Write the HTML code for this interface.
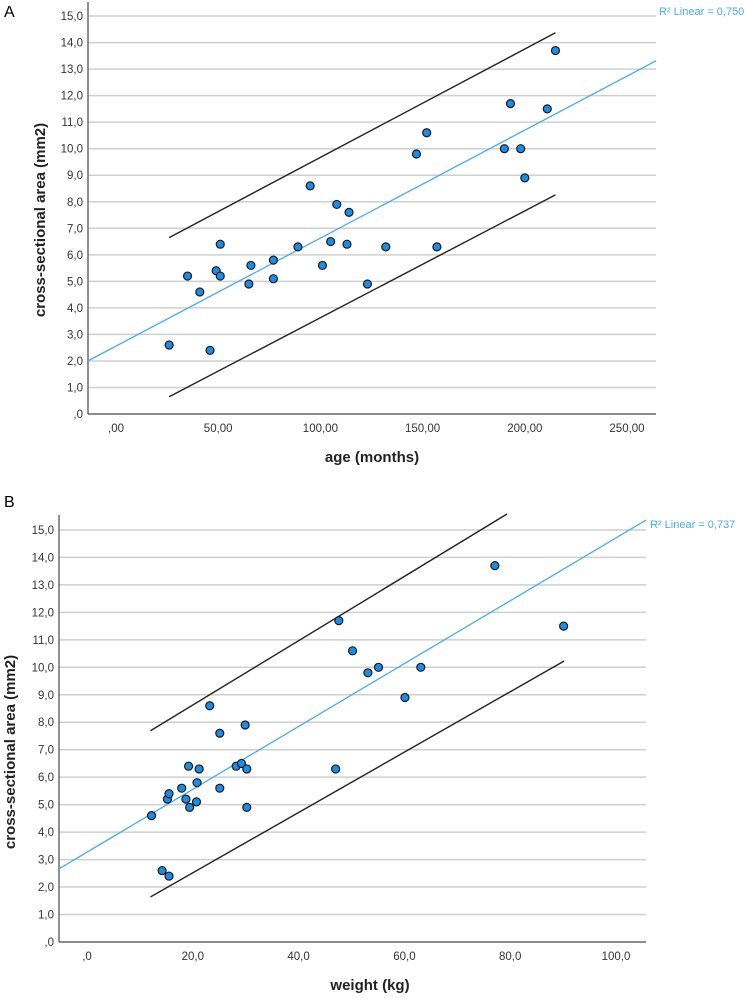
<!DOCTYPE html>
<html><head><meta charset="utf-8"><style>
body{margin:0;background:#fff;}
svg text{font-family:"Liberation Sans",sans-serif;}
</style></head><body>
<svg id="s" width="745" height="996" viewBox="0 0 745 996" xmlns="http://www.w3.org/2000/svg">
<text x="4" y="17" font-size="16" fill="#000">A</text>
<text x="4" y="507" font-size="16" fill="#000">B</text>
</svg>
<script>
// Panel A data
const ageX = [26,35,41,46,49,51,51,65,66,77,77,89,95,101,105,108,114,113,123,132,147,152,157,190,193,198,200,211,215];
const ageY = [2.6,5.2,4.6,2.4,5.4,6.4,5.2,4.9,5.6,5.8,5.1,6.3,8.6,5.6,6.5,7.9,7.6,6.4,4.9,6.3,9.8,10.6,6.3,10.0,11.7,10.0,8.9,11.5,13.7];
const ageFit = [2.56, 0.0407]; // intercept, slope
const ageBandX = [26, 215];
const ageUpperY = [6.65, 14.37];
const ageLowerY = [0.65, 8.26];
const ageXTicks = [0,50,100,150,200,250];
const ageXTickLabels = [",00","50,00","100,00","150,00","200,00","250,00"];
// Panel B data
const wX = [12.2,14.2,15.5,15.2,15.5,17.9,18.7,19.2,19.4,20.7,20.8,21.2,23.2,25.1,25.1,28.2,29.2,29.9,30.2,30.2,47.0,47.6,50.2,53.1,55.1,60.1,63.1,77.1,90.1];
const wY = [4.6,2.6,2.4,5.2,5.4,5.6,5.2,6.4,4.9,5.1,5.8,6.3,8.6,7.6,5.6,6.4,6.5,7.9,6.3,4.9,6.3,11.7,10.6,9.8,10.0,8.9,10.0,13.7,11.5];
const wFit = [3.27, 0.1144];
const wUpperX = [12, 79.4];
const wUpperY = [7.69, 15.58];
const wLowerX = [12, 90.2];
const wLowerY = [1.64, 10.23];
const wXTicks = [0,20,40,60,80,100];
const wXTickLabels = [",0","20,0","40,0","60,0","80,0","100,0"];
const yTicks = [0,1,2,3,4,5,6,7,8,9,10,11,12,13,14,15];
const yTickLabels = [",0","1,0","2,0","3,0","4,0","5,0","6,0","7,0","8,0","9,0","10,0","11,0","12,0","13,0","14,0","15,0"];

const svg = document.getElementById('s');
const NS = 'http://www.w3.org/2000/svg';
function mk(tag, attrs, parent){const e=document.createElementNS(NS,tag);for(const k in attrs)e.setAttribute(k,attrs[k]);(parent||svg).appendChild(e);return e;}

function panel(cfg){
  const g = mk('g',{});
  
  
  const sx = v => cfg.x0 + v*cfg.kx;
  const sy = v => cfg.y0 - v*cfg.ky;
  yTicks.forEach((t,i)=>{
    const gl = mk('line',{x1:cfg.left,x2:cfg.right,y1:sy(t),y2:sy(t),stroke:'#cfcfcf','stroke-width':1.5},g);
    
    
    const tl = mk('text',{x:cfg.left-5,y:sy(t)+4,'font-size':11.5,fill:'#333','text-anchor':'end'},g);
    tl.textContent = yTickLabels[i];
    
    
  });
  cfg.xTicks.forEach((t,i)=>{
    const tl = mk('text',{x:sx(t),y:cfg.y0+18,'font-size':11.5,fill:'#333','text-anchor':'middle'},g);
    tl.textContent = cfg.xLabels[i];
    
    
  });
  const ya = mk('line',{x1:cfg.left,x2:cfg.left,y1:cfg.axisTop,y2:cfg.y0,stroke:'#555','stroke-width':1.3},g);
  
  
  const xa = mk('line',{x1:cfg.left,x2:cfg.right,y1:cfg.y0,y2:cfg.y0,stroke:'#555','stroke-width':1.3},g);
  
  
  const xl = (cfg.left-cfg.x0)/cfg.kx, xr = (cfg.right-cfg.x0)/cfg.kx;
  const fl = mk('line',{x1:sx(xl),y1:sy(cfg.fit[0]+cfg.fit[1]*xl),x2:sx(xr),y2:sy(cfg.fit[0]+cfg.fit[1]*xr),stroke:'#4aaaf0','stroke-width':1.3},g);
  
  
  const ub = mk('line',{x1:sx(cfg.ux[0]),y1:sy(cfg.uy[0]),x2:sx(cfg.ux[1]),y2:sy(cfg.uy[1]),stroke:'#222','stroke-width':1.4},g);
  
  
  const lb = mk('line',{x1:sx(cfg.lx[0]),y1:sy(cfg.ly[0]),x2:sx(cfg.lx[1]),y2:sy(cfg.ly[1]),stroke:'#222','stroke-width':1.4},g);
  
  
  cfg.xs.forEach((v,i)=>{
    const c = mk('circle',{cx:sx(v),cy:sy(cfg.ys[i]),r:4,fill:'#1a8ee6',stroke:'#1a1a1a','stroke-width':1.2},g);
    
    
  });
  const r2 = mk('text',{x:cfg.r2x,y:cfg.r2y,'font-size':11,fill:'#4aaaf0'},g);
  r2.textContent = cfg.r2;
  
  
  const xt = mk('text',{x:cfg.xtx,y:cfg.xty,'font-size':15,'font-weight':'bold',fill:'#222','text-anchor':'middle'},g);
  xt.textContent = cfg.xTitle;
  
  
  const yt = mk('text',{x:0,y:0,'font-size':15,'font-weight':'bold',fill:'#222','text-anchor':'middle',transform:`translate(${cfg.ytx},${cfg.yty}) rotate(-90)`},g);
  yt.textContent = 'cross-sectional area (mm2)';
  
  
}

panel({name:'chart-age',left:88,right:656,axisTop:2,x0:116,kx:2.044,y0:414,ky:26.53,
  xTicks:ageXTicks,xLabels:ageXTickLabels,fit:ageFit,ux:ageBandX,uy:ageUpperY,lx:ageBandX,ly:ageLowerY,
  xs:ageX,ys:ageY,r2:'R² Linear = 0,750',r2x:659,r2y:15,xTitle:'age (months)',xtx:372,xty:462,ytx:45,yty:220});
panel({name:'chart-weight',left:59,right:646,axisTop:515,x0:87,kx:5.29,y0:942,ky:27.47,
  xTicks:wXTicks,xLabels:wXTickLabels,fit:wFit,ux:wUpperX,uy:wUpperY,lx:wLowerX,ly:wLowerY,
  xs:wX,ys:wY,r2:'R² Linear = 0,737',r2x:650,r2y:528,xTitle:'weight (kg)',xtx:370,xty:990,ytx:15,yty:752});
</script>
</body></html>
